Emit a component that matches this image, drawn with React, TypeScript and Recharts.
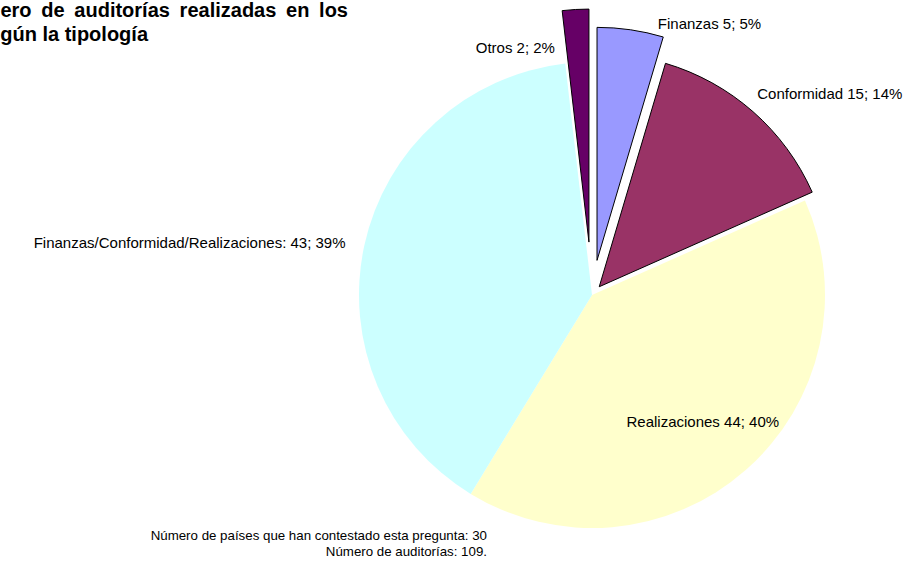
import { Cell, Pie, PieChart } from "recharts"

const categories = ["Finanzas", "Conformidad", "Realizaciones", "Finanzas/Conformidad/Realizaciones", "Otros"]
const auditCounts = [5, 15, 44, 43, 2]
const nameSeparators = [" ", " ", " ", ": ", " "]
const sliceColors = ["#9999ff", "#993366", "#ffffcc", "#ccffff", "#660066"]

// how far each slice is pulled out of the pie (px), 0 = not exploded
const explode = [35, 11, 0, 0, 53]

// label anchor: angle clockwise from 12 o'clock, distance from pie centre
const labelPlacement = [
  { angle: 13.9, r: 274, anchor: "start" },
  { angle: 40.2, r: 256, anchor: "start" },
  { angle: 139.9, r: 172, anchor: "middle" },
  { angle: 280.9, r: 251, anchor: "end" },
  { angle: 351.3, r: 245, anchor: "end" },
]

const WIDTH = 917
const HEIGHT = 561
const CX = 592
const CY = 295
const RADIUS = 233
const FONT = '"Liberation Sans", Arial, sans-serif'

const total = auditCounts.reduce((s, v) => s + v, 0)
const data = categories.map((name, i) => ({ name, value: auditCounts[i] }))

// mid angle (clockwise from top) of every slice
const midAngles = auditCounts.map((v, i) => {
  const before = auditCounts.slice(0, i).reduce((s, x) => s + x, 0)
  return ((before + v / 2) / total) * 360
})

const rad = (deg: number) => (deg * Math.PI) / 180

function renderLabel(props: any) {
  const i = props.index
  const p = labelPlacement[i]
  const x = CX + p.r * Math.sin(rad(p.angle))
  const y = CY - p.r * Math.cos(rad(p.angle))
  const pct = Math.round((auditCounts[i] / total) * 100)
  return (
    <text key={`lbl-${i}`} x={x} y={y} textAnchor={p.anchor} fill="#000" fontSize={15} fontFamily={FONT}>
      {`${categories[i]}${nameSeparators[i]}${auditCounts[i]}; ${pct}%`}
    </text>
  )
}

export default function App() {
  return (
    <div style={{ position: "fixed", left: 0, top: 0, width: WIDTH, height: HEIGHT, background: "#fff", overflow: "hidden" }}>
      <PieChart width={WIDTH} height={HEIGHT} margin={{ top: 0, right: 0, bottom: 0, left: 0 }}>
        {categories.map((_, k) => {
          const d = explode[k]
          const cx = CX + d * Math.sin(rad(midAngles[k]))
          const cy = CY - d * Math.cos(rad(midAngles[k]))
          const last = k === categories.length - 1
          return (
            <Pie
              key={k}
              data={data}
              dataKey="value"
              nameKey="name"
              cx={cx}
              cy={cy}
              outerRadius={RADIUS}
              startAngle={90}
              endAngle={-270}
              isAnimationActive={false}
              labelLine={false}
              label={last ? renderLabel : false}
            >
              {data.map((_, i) => (
                <Cell
                  key={i}
                  fill={i === k ? sliceColors[i] : "none"}
                  stroke={i === k && d > 0 ? "#000" : "none"}
                  strokeWidth={1}
                />
              ))}
            </Pie>
          )
        })}
      </PieChart>

      {/* title is clipped by the left edge, as in the original picture */}
      <div style={{ position: "absolute", left: -44, top: 0, width: 392, fontFamily: FONT, fontWeight: "bold", fontSize: 20, lineHeight: "20px", textAlign: "justify", textAlignLast: "justify", whiteSpace: "nowrap" as any }}>
        Número de auditorías realizadas en los
      </div>
      <div style={{ position: "absolute", left: -22, top: 23.5, fontFamily: FONT, fontWeight: "bold", fontSize: 20, lineHeight: "20px", whiteSpace: "nowrap" }}>
        según la tipología
      </div>

      <svg width={WIDTH} height={HEIGHT} style={{ position: "absolute", left: 0, top: 0, pointerEvents: "none" }}>
        <text x={487} y={539.5} textAnchor="end" fontSize={13.3} fontFamily={FONT} fill="#000">
          Número de países que han contestado esta pregunta: 30
        </text>
        <text x={487} y={556} textAnchor="end" fontSize={13.3} fontFamily={FONT} fill="#000">
          Número de auditorías: 109.
        </text>
      </svg>
    </div>
  )
}
